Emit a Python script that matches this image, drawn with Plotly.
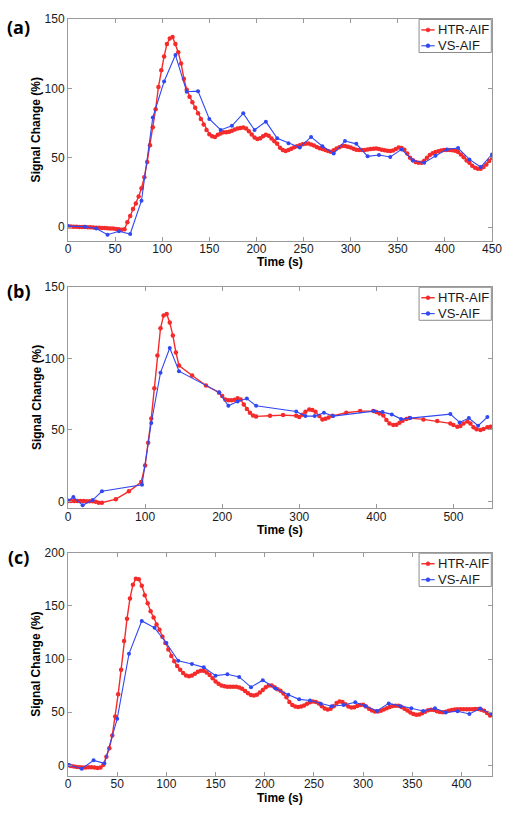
import plotly.graph_objects as go

# ---------------- data ----------------
# Panel (a)
a_htr_t = list(range(0, 451, 3))
a_htr_v = [0.5, 0.4, 0.3, 0.2, 0.1, 0.0, 0.0, -0.1, -0.2, -0.3,
           -0.4, -0.5, -0.6, -0.7, -0.8, -1.0, -1.1, -1.3, -1.6, -2.0,
           -1.5, 3.5, 8, 13, 17, 22, 28, 36, 47, 59,
           72, 85, 101, 113, 123, 132, 136, 137, 132, 126,
           118, 107, 99, 94, 90, 86, 82, 78, 74, 70,
           67, 65.5, 65, 66.5, 67.5, 68.3, 68.3, 68.8, 69.5, 70.3,
           71, 71.5, 71.7, 71, 69, 66.7, 64.5, 63.5, 64, 65.5,
           66.5, 65.8, 63.8, 61.8, 60, 57.2, 55.5, 54.8, 55.5, 56.5,
           57.5, 58.3, 59, 59.7, 60.1, 60.2, 59.6, 58.8, 57.7, 56.8,
           56.2, 55.6, 54.8, 54.3, 55.3, 56.6, 57.6, 58.4, 58.4, 57.9,
           57.3, 56.5, 55.8, 55.5, 55.5, 55.6, 55.9, 56.2, 56.5, 56.7,
           56.3, 55.7, 55.3, 55, 54.8, 55.2, 56.3, 57.3, 57, 55.8,
           53, 50, 48.2, 47, 46.4, 46.4, 47.8, 50, 52, 53.3,
           54.1, 54.7, 55.2, 55.5, 55.6, 55.5, 55.3, 55, 54.2, 52.3,
           50.3, 48, 46.3, 44.3, 42.8, 42, 42, 43.3, 45.2, 47.6,
           50]
a_vs_t = [0, 18, 30, 42, 54, 66, 78, 90, 102, 114, 126, 138, 150, 162, 174, 186, 198, 210, 222,
          234, 246, 258, 270, 282, 294, 306, 318, 330, 342, 354, 366, 378, 390, 402, 414, 426, 438, 450]
a_vs_v = [0.7, 0.3, -1, -5.5, -3, -5, 19, 79, 105, 124, 97.6, 98, 78, 70, 73, 82, 70, 76, 64,
          60.5, 57.4, 65, 58.3, 53, 62, 60, 51, 52, 50.5, 56, 48, 46.4, 51.4, 56, 57, 48.8, 43.3, 52.4]

# Panel (b)
b_htr_t = [0, 4, 8, 12, 16, 20, 24, 28, 32, 36, 40, 44,
           62, 79, 95,
           100, 104, 108, 112, 116, 120, 124, 128, 132, 136, 140, 144,
           161, 179, 196,
           200, 204, 208, 212, 216, 220, 224, 228, 232, 236, 240, 244,
           262, 279, 296,
           300, 304, 308, 313, 317, 321, 326, 330, 334, 338, 343,
           361, 379, 396,
           400, 404, 409, 413, 417, 422, 426, 430, 434, 439, 443,
           461, 479, 496,
           500, 505, 509, 513, 518, 522, 526, 530, 535, 539, 544, 548]
b_htr_v = [0.3, 0.3, 0.2, 0.2, 0.2, 0.2, 0.1, 0.1, 0, -0.3, -1, -1,
           1.5, 7, 13.5,
           25, 41, 58, 79, 102, 121, 130, 131, 125, 116, 104, 95,
           88, 81, 76,
           73.7, 71.2, 70.7, 70.7, 71, 72, 71.2, 67.7, 64.5, 62, 60, 59.4,
           59.8, 60.3, 59.8,
           59, 60.5, 62.6, 64.2, 63.8, 62.6, 59.6, 57.3, 57.8, 58.7, 59.8,
           61.9, 63.1, 63.1,
           62.4, 61.5, 60, 56.8, 54.5, 53.4, 53.6, 55, 56.4, 57.5, 58.2,
           57.3, 56.1, 54.5,
           53.4, 52.2, 52.7, 54.5, 55.9, 54.5, 51.8, 50.4, 49.9, 50.6, 51.8, 52.2]
b_vs_t = [0, 7, 19, 32, 44, 96, 108, 120, 132, 144, 196, 208, 220, 232, 244,
          296, 308, 320, 332, 344, 397, 408, 420, 432, 444, 496, 508, 520, 532, 544]
b_vs_v = [0.5, 3, -2.8, 0.9, 7, 11.6, 54.8, 90, 107.2, 91, 76.2, 66.8, 69.8, 71.9, 66.8,
          62.8, 59.6, 59.6, 61.9, 59.6, 63.1, 62.4, 60.8, 57.5, 58.2, 61, 55.2, 58.2, 52.9, 58.9]

# Panel (c)
c_htr_t = list(range(0, 430, 3))
c_htr_v = [0, -0.5, -1, -1.5, -1.8, -2, -2, -1.8, -1.8, -2,
           -2.5, -2, 0.5, 8, 16, 28, 46, 67, 90, 117,
           138, 157, 170, 175.5, 175, 169, 160, 152.5, 145, 139,
           132.5, 127.5, 121, 115, 109, 103, 98, 93.5, 90, 87,
           84.5, 83.8, 84.6, 86.3, 88, 89, 88.9, 87.3, 85, 82,
           79, 76.7, 75.2, 74.4, 74, 73.9, 73.9, 73.9, 73.3, 72,
           70, 67.8, 66.3, 65.8, 66.5, 68.5, 71, 73.5, 75.2, 75.2,
           73.6, 71.6, 70.2, 67.5, 64, 59.5, 56.7, 55.3, 54.9, 55.3,
           56.3, 58, 59.3, 60, 59.7, 58.1, 55.7, 53.4, 52.5, 53.2,
           55.5, 58.6, 60, 59.6, 57.5, 55.3, 54.4, 54.7, 55.8, 56.9,
           57.1, 55.3, 53.2, 51.6, 50.6, 50.6, 51.3, 52.6, 53.8, 54.9,
           55.8, 56.2, 56.1, 54.9, 53.3, 51.6, 49.8, 48.4, 47.6, 47.8,
           49.1, 50.4, 51.8, 52.4, 52, 51, 50.2, 50, 50.5, 51.4,
           52, 52.5, 52.8, 52.8, 52.8, 52.8, 52.8, 52.9, 53.1, 53,
           52.4, 51.3, 49.2, 47]
c_vs_t = [1, 14, 26, 37, 50, 62, 75, 88, 100, 112, 126, 138, 150, 162, 174, 186, 198, 211, 224,
          235, 246, 257, 268, 280, 292, 302, 314, 326, 338, 349, 361, 373, 384, 396, 408, 419, 431]
c_vs_v = [0.3, -3.1, 4.7, 1.9, 43.8, 104.9, 135.9, 129.4, 115.1, 98.4, 95.3, 92.2, 84.4, 85.7,
          83.2, 73.6, 80.1, 72.3, 66.4, 62.1, 61.1, 58, 55.6, 56.8, 59.3, 55.9, 51.2, 58.3, 55.6,
          53.7, 51.2, 53.7, 49.7, 50.9, 48.4, 53.4, 48.1]

panel_labels = ["(a)", "(b)", "(c)"]
series_names = ["HTR-AIF", "VS-AIF"]
x_title = "Time (s)"
y_title = "Signal Change (%)"
x_ranges = [[0, 450], [0, 550], [0, 431]]
y_ranges = [[-10, 150], [-5, 150], [-10, 200]]
x_ticks = [list(range(0, 451, 50)), list(range(0, 551, 100)), list(range(0, 401, 50))]
y_ticks = [[0, 50, 100, 150], [0, 50, 100, 150], [0, 50, 100, 150, 200]]

# ---------------- style ----------------
RED = "#f52b2b"
BLUE = "#3048f2"
AX = "#9a9a9a"
FONT = "Liberation Sans, Arial, sans-serif"
domains = [[0.7068, 1.0], [0.3534, 0.6462], [0.0, 0.2949]]
label_shift = [(-50, -8), (-49, -4), (-50, -4)]
series_colors = [RED, BLUE]
series_widths = [1.4, 1.1]
series_msize = [4.5, 4]

# legend box geometry (fractions of each plot area)
LEG_X0, LEG_X1, LEG_Y0, LEG_Y1 = 0.828, 0.9984, 0.849, 0.998
LEG_ROWS = [0.9508, 0.8793]
LEG_L0, LEG_L1, LEG_TX = 0.8333, 0.8648, 0.8685

data = [(a_htr_t, a_htr_v, a_vs_t, a_vs_v),
        (b_htr_t, b_htr_v, b_vs_t, b_vs_v),
        (c_htr_t, c_htr_v, c_vs_t, c_vs_v)]

fig = go.Figure()
layout = dict(width=514, height=813, paper_bgcolor="white", plot_bgcolor="white",
              margin=dict(l=68, r=20, t=12, b=37), font=dict(family=FONT, color="#1a1a1a"),
              showlegend=False)
annotations = []
shapes = []

for i, (ht, hv, vt, vv) in enumerate(data):
    sfx = "" if i == 0 else str(i + 1)
    for k, (tx, vy) in enumerate([(ht, hv), (vt, vv)]):
        fig.add_trace(go.Scatter(x=tx, y=vy, mode="lines+markers", name=series_names[k],
                                 line=dict(color=series_colors[k], width=series_widths[k]),
                                 marker=dict(color=series_colors[k], size=series_msize[k], symbol="circle"),
                                 xaxis="x" + sfx, yaxis="y" + sfx))
    axcommon = dict(showline=True, linecolor=AX, linewidth=1, mirror="ticks", ticks="inside",
                    ticklen=4, tickcolor=AX, showgrid=False, zeroline=False,
                    tickfont=dict(size=12, family=FONT, color="#1a1a1a"))
    layout["xaxis" + sfx] = dict(domain=[0, 1], range=x_ranges[i], tickvals=x_ticks[i],
                                 anchor="y" + sfx, ticklabelstandoff=-3, **axcommon)
    layout["yaxis" + sfx] = dict(domain=domains[i], range=y_ranges[i], tickvals=y_ticks[i],
                                 anchor="x" + sfx, **axcommon)
    xr = "x" + sfx + " domain"
    yr = "y" + sfx + " domain"
    annotations.append(dict(text="<b>" + panel_labels[i] + "</b>", xref=xr, yref=yr, x=0, y=1,
                            xanchor="center", yanchor="middle",
                            xshift=label_shift[i][0], yshift=label_shift[i][1],
                            showarrow=False, font=dict(size=18, family="Open Sans, sans-serif", color="black")))
    annotations.append(dict(text="<b>" + x_title + "</b>", xref=xr, yref=yr, x=0.5, y=0,
                            xanchor="center", yanchor="middle", yshift=-21.5,
                            showarrow=False, font=dict(size=12, family=FONT, color="black")))
    annotations.append(dict(text="<b>" + y_title + "</b>", xref=xr, yref=yr, x=0, y=0.5,
                            xanchor="center", yanchor="middle", xshift=-31.6, textangle=-90,
                            showarrow=False, font=dict(size=12, family=FONT, color="black")))
    # legend (box, samples, labels)
    shapes.append(dict(type="rect", xref=xr, yref=yr, x0=LEG_X0, x1=LEG_X1, y0=LEG_Y0, y1=LEG_Y1,
                       line=dict(color="#8a8a8a", width=1), fillcolor="white", layer="above"))
    for k in range(2):
        yy = LEG_ROWS[k]
        shapes.append(dict(type="line", xref=xr, yref=yr, x0=LEG_L0, x1=LEG_L1, y0=yy, y1=yy,
                           line=dict(color=series_colors[k], width=series_widths[k]), layer="above"))
        xc = (LEG_L0 + LEG_L1) / 2
        shapes.append(dict(type="circle", xref=xr, yref=yr, x0=xc - 0.0047, x1=xc + 0.0047,
                           y0=yy - 0.009, y1=yy + 0.009, fillcolor=series_colors[k],
                           line=dict(color=series_colors[k], width=0.5), layer="above"))
        annotations.append(dict(text=series_names[k], xref=xr, yref=yr, x=LEG_TX, y=yy,
                                xanchor="left", yanchor="middle", showarrow=False,
                                font=dict(size=13, family=FONT, color="#1a1a1a")))

layout["annotations"] = annotations
layout["shapes"] = shapes
fig.update_layout(**layout)
fig.write_html("out.html", config={"displayModeBar": False},
               post_script="document.body.style.margin='0px';")
